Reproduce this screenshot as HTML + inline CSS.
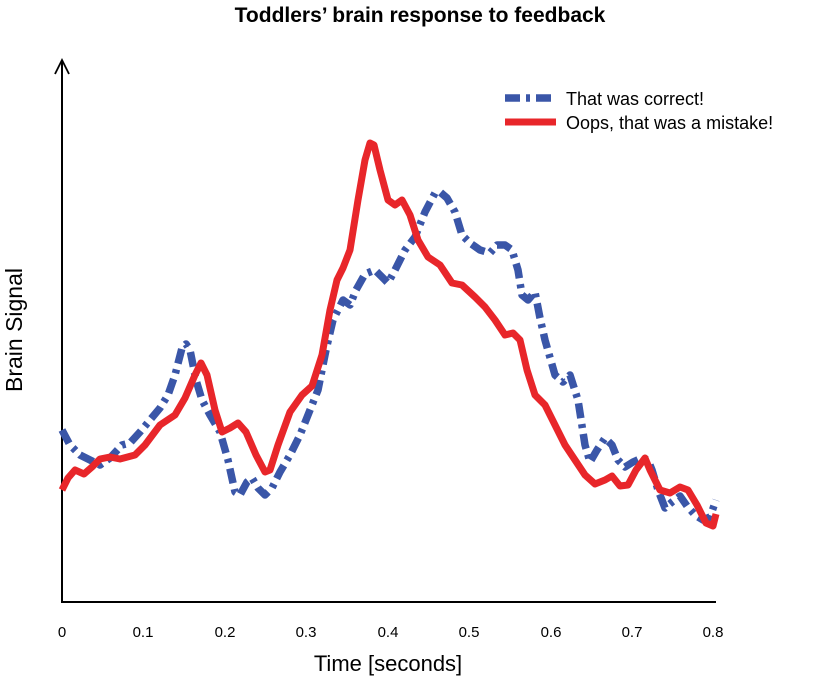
<!DOCTYPE html><html><head><style>body{margin:0;background:#fff}svg{display:block}text{font-family:"Liberation Sans",Arial,sans-serif}</style></head><body>
<svg width="840" height="687" viewBox="0 0 840 687">
<text x="420" y="22" font-size="21" font-weight="bold" text-anchor="middle">Toddlers’ brain response to feedback</text>
<line x1="62" y1="60" x2="62" y2="603" stroke="#000" stroke-width="2"/>
<polyline points="55,74 62,60 69,74" fill="none" stroke="#000" stroke-width="1.8"/>
<line x1="61" y1="602" x2="716" y2="602" stroke="#000" stroke-width="2"/>
<g font-size="15" text-anchor="middle">
<text x="62" y="637">0</text><text x="143" y="637">0.1</text><text x="225" y="637">0.2</text><text x="306" y="637">0.3</text><text x="388" y="637">0.4</text><text x="469" y="637">0.5</text><text x="551" y="637">0.6</text><text x="632" y="637">0.7</text><text x="713" y="637">0.8</text>
</g>
<text x="388" y="671" font-size="22" text-anchor="middle">Time [seconds]</text>
<text transform="translate(22,330) rotate(-90)" font-size="23" text-anchor="middle">Brain Signal</text>
<polyline fill="none" stroke="#3a56a8" stroke-width="7.5" stroke-linejoin="round" stroke-dasharray="15 6 4 6" points="62,430 70,445 80,455 90,460 100,465 110,458 122,445 130,443 140,432 150,420 160,408 168,395 175,375 182,348 186,344 190,350 196,380 202,400 210,415 220,432 228,460 235,492 240,495 247,482 252,478 258,488 265,495 272,488 280,472 290,455 300,435 310,410 318,390 326,350 333,320 343,300 350,305 356,290 365,274 375,270 382,277 388,283 395,270 405,250 415,237 425,212 435,193 440,192 447,198 455,212 462,235 470,243 480,250 490,253 497,245 505,245 512,250 518,270 522,295 528,300 535,292 540,318 545,340 555,375 563,382 570,375 578,400 585,445 590,462 597,450 605,438 612,445 618,460 625,467 633,462 642,458 648,460 652,470 658,490 665,508 672,502 680,496 687,506 695,515 703,520 710,517 716,500"/>
<polyline fill="none" stroke="#e8262a" stroke-width="7" stroke-linejoin="round" points="62,490 68,478 75,470 84,474 92,467 100,459 110,457 120,459 135,455 145,445 160,425 175,415 185,398 195,375 201,363 207,375 215,410 222,432 230,428 238,423 246,432 256,455 265,472 270,470 278,445 290,412 302,395 312,386 322,355 330,310 337,280 343,268 350,250 358,200 365,160 370,143 374,145 380,170 388,200 395,205 402,200 410,215 418,240 428,257 440,265 452,283 462,285 475,297 485,307 495,320 505,335 513,333 520,340 527,370 535,395 545,405 555,425 565,445 575,460 585,475 595,484 605,480 612,476 620,486 628,485 636,470 645,458 650,470 660,490 670,493 680,487 688,490 697,505 706,523 713,526 716,514"/>
<line x1="505" y1="98" x2="556" y2="98" stroke="#3a56a8" stroke-width="7.5" stroke-dasharray="15 6 4 6"/>
<line x1="505" y1="122" x2="556" y2="122" stroke="#e8262a" stroke-width="7"/>
<text x="566" y="105" font-size="18">That was correct!</text>
<text x="566" y="129" font-size="18">Oops, that was a mistake!</text>
</svg></body></html>
